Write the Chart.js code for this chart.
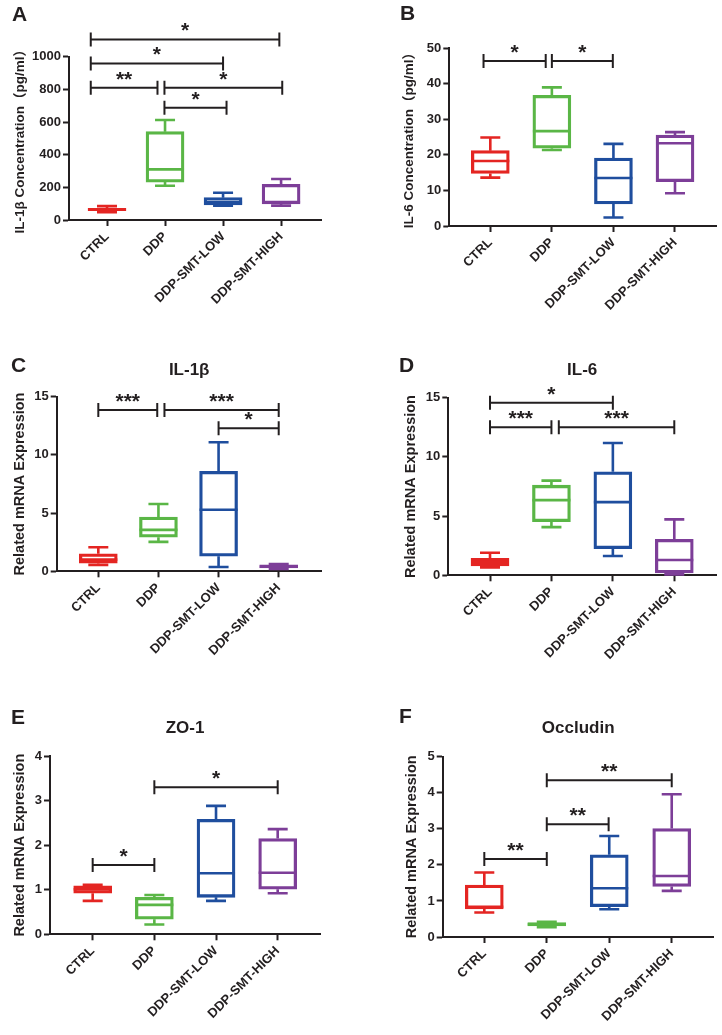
<!DOCTYPE html>
<html><head><meta charset="utf-8">
<script src="https://cdn.jsdelivr.net/npm/chart.js@4/dist/chart.umd.min.js"></script>
<style>
html,body{margin:0;padding:0;background:#fff;}
body{width:722px;height:1035px;position:relative;overflow:hidden;}
canvas{position:absolute;}
</style></head><body>
<canvas id="cA"></canvas><canvas id="cB"></canvas>
<canvas id="cC"></canvas><canvas id="cD"></canvas>
<canvas id="cE"></canvas><canvas id="cF"></canvas>
<script>
// ---------- data ----------
const categories = ['CTRL', 'DDP', 'DDP-SMT-LOW', 'DDP-SMT-HIGH'];

// A: IL-1β concentration (pg/ml)
const aMin = [47, 210, 88, 88];
const aQ1 = [57, 232, 92, 98];
const aMedian = [65, 310, 108, 110];
const aQ3 = [72, 541, 137, 218];
const aMax = [85, 612, 167, 251];
const aTicks = [0, 200, 400, 600, 800, 1000];
const aBrackets = [[0.72, 3.97, 1106, '*'], [0.72, 3.0, 959, '*'], [0.72, 1.87, 810, '**'], [1.99, 4.02, 810, '*'], [1.99, 3.06, 687, '*']];

// B: IL-6 concentration (pg/ml)
const bMin = [13.6, 21.4, 2.4, 9.2];
const bQ1 = [14.8, 21.9, 6.2, 12.5];
const bMedian = [18.3, 26.7, 13.5, 23.3];
const bQ3 = [21.2, 36.8, 19.1, 25.6];
const bMax = [24.9, 39.0, 23.1, 26.4];
const bTicks = [0, 10, 20, 30, 40, 50];
const bBrackets = [[0.89, 1.9, 46.4, '*'], [2.0, 2.99, 46.4, '*']];

// C: IL-1β mRNA
const cMin = [0.55, 2.53, 0.37, 0.2];
const cQ1 = [0.7, 2.93, 1.29, 0.29];
const cMedian = [1.0, 3.56, 5.29, 0.4];
const cQ3 = [1.5, 4.66, 8.59, 0.55];
const cMax = [2.07, 5.78, 11.09, 0.63];
const cTicks = [0, 5, 10, 15];
const cBrackets = [[1.0, 1.98, 13.85, '***'], [2.1, 4.0, 13.85, '***'], [3.0, 4.0, 12.28, '*']];

// D: IL-6 mRNA
const dMin = [0.67, 4.07, 1.63, 0.08];
const dQ1 = [0.79, 4.52, 2.25, 0.2];
const dMedian = [1.15, 6.35, 6.18, 1.29];
const dQ3 = [1.43, 7.61, 8.74, 3.03];
const dMax = [1.91, 8.0, 11.18, 4.72];
const dTicks = [0, 5, 10, 15];
const dBrackets = [[1.0, 3.0, 14.58, '*'], [1.0, 2.0, 12.5, '***'], [2.12, 4.0, 12.5, '***']];

// E: ZO-1 mRNA
const eMin = [0.75, 0.22, 0.75, 0.92];
const eQ1 = [0.92, 0.34, 0.83, 1.01];
const eMedian = [1.01, 0.66, 1.37, 1.38];
const eQ3 = [1.09, 0.83, 2.58, 2.15];
const eMax = [1.11, 0.88, 2.88, 2.36];
const eTicks = [0, 1, 2, 3, 4];
const eBrackets = [[1.0, 2.0, 1.555, '*'], [2.0, 4.0, 3.3, '*']];

// F: Occludin mRNA
const fMin = [0.68, 0.27, 0.77, 1.28];
const fQ1 = [0.78, 0.31, 0.84, 1.40];
const fMedian = [0.84, 0.35, 1.35, 1.69];
const fQ3 = [1.44, 0.40, 2.28, 3.01];
const fMax = [1.79, 0.42, 2.80, 3.96];
const fTicks = [0, 1, 2, 3, 4, 5];
const fBrackets = [[1.0, 2.0, 2.16, '**'], [2.0, 2.99, 3.13, '**'], [2.0, 4.0, 4.35, '**']];

// ---------- style ----------
const colors = ['#E42522', '#5AB646', '#1F4E9E', '#7D3E98'];
const INK = '#231F20';
const FONT = '"Liberation Sans", Arial, Helvetica, "Noto Sans CJK SC", sans-serif';
const LW = 2.6, BOXW = 38, CAPW = 20;

function extrasPlugin(p) {
  return {
    id: 'extras' + p.id,
    afterDatasetsDraw(chart) {
      const ctx = chart.ctx, x = chart.scales.x, y = chart.scales.y;
      ctx.save();
      ctx.lineWidth = LW; ctx.lineCap = 'butt';
      categories.forEach((c, i) => {
        const cx = x.getPixelForValue(i + 1);
        const yMin = y.getPixelForValue(p.min[i]), yQ1 = y.getPixelForValue(p.q1[i]);
        const yMed = y.getPixelForValue(p.med[i]), yQ3 = y.getPixelForValue(p.q3[i]);
        const yMax = y.getPixelForValue(p.max[i]);
        ctx.strokeStyle = colors[i];
        ctx.beginPath();
        ctx.moveTo(cx, yQ3); ctx.lineTo(cx, yMax);
        ctx.moveTo(cx - CAPW / 2, yMax); ctx.lineTo(cx + CAPW / 2, yMax);
        ctx.moveTo(cx, yQ1); ctx.lineTo(cx, yMin);
        ctx.moveTo(cx - CAPW / 2, yMin); ctx.lineTo(cx + CAPW / 2, yMin);
        ctx.moveTo(cx - BOXW / 2, yMed); ctx.lineTo(cx + BOXW / 2, yMed);
        ctx.stroke();
      });
      ctx.restore();
    },
    afterDraw(chart) {
      const ctx = chart.ctx, x = chart.scales.x, y = chart.scales.y;
      const [cl, ct] = p.box;
      ctx.save();
      ctx.strokeStyle = INK; ctx.fillStyle = INK; ctx.lineWidth = 2;
      ctx.textAlign = 'center'; ctx.textBaseline = 'alphabetic';
      ctx.font = 'bold 21px ' + FONT;
      p.brackets.forEach(([x1, x2, v, lab]) => {
        const px1 = x.getPixelForValue(x1), px2 = x.getPixelForValue(x2), py = y.getPixelForValue(v);
        ctx.beginPath();
        ctx.moveTo(px1, py); ctx.lineTo(px2, py);
        ctx.moveTo(px1, py - 7); ctx.lineTo(px1, py + 7);
        ctx.moveTo(px2, py - 7); ctx.lineTo(px2, py + 7);
        ctx.stroke();
        ctx.fillText(lab, (px1 + px2) / 2, py - 2);
      });
      // panel letter
      ctx.textAlign = 'left';
      ctx.font = 'bold 21px ' + FONT;
      ctx.fillText(p.letter, p.letterPos[0] - cl, p.letterPos[1] - ct);
      // title
      if (p.title) {
        ctx.textAlign = 'center';
        ctx.font = 'bold 17px ' + FONT;
        const a = chart.chartArea;
        ctx.fillText(p.title, (a.left + a.right) / 2, p.titleY - ct);
      }
      ctx.restore();
    }
  };
}

function makeChart(p) {
  const [cl, ct, cw, ch] = p.box;
  const [L, T, R, B] = p.area;
  const canvas = document.getElementById(p.id);
  canvas.width = cw; canvas.height = ch;
  canvas.style.left = cl + 'px'; canvas.style.top = ct + 'px';
  canvas.style.width = cw + 'px'; canvas.style.height = ch + 'px';
  const tickFont = { family: FONT, size: 13, weight: 'bold' };
  const gridOpts = { display: true, drawOnChartArea: false, drawTicks: true, tickLength: 6, tickWidth: 2, tickColor: INK, offset: false };
  const borderOpts = { display: true, color: INK, width: 2 };
  return new Chart(canvas, {
    type: 'bar',
    data: {
      datasets: [{
        data: categories.map((c, i) => ({ x: i + 1, y: [p.q1[i], p.q3[i]] })),
        backgroundColor: 'rgba(255,255,255,0)',
        borderColor: colors,
        borderWidth: LW,
        borderSkipped: false,
        barThickness: BOXW
      }]
    },
    options: {
      responsive: false, animation: false, devicePixelRatio: 1,
      layout: { padding: { left: 0, top: T - ct, right: cl + cw - R, bottom: 0 } },
      plugins: { legend: { display: false }, tooltip: { enabled: false }, title: { display: false } },
      scales: {
        x: {
          type: 'linear', min: p.xmin, max: p.xmax, offset: false,
          afterBuildTicks: s => { s.ticks = categories.map((c, i) => ({ value: i + 1 })); },
          afterFit: s => { s.height = ch - (B - ct); },
          ticks: { callback: v => categories[v - 1] ?? '', minRotation: 45, maxRotation: 45, autoSkip: false, font: tickFont, color: INK, padding: 3 },
          grid: gridOpts, border: borderOpts
        },
        y: {
          type: 'linear', min: 0, max: p.ticks[p.ticks.length - 1],
          afterBuildTicks: s => { s.ticks = p.ticks.map(v => ({ value: v })); },
          afterFit: s => { s.width = L - cl; },
          ticks: { callback: v => String(v), font: tickFont, color: INK, padding: 2 },
          grid: gridOpts, border: borderOpts,
          title: { display: true, text: p.ytitle, color: INK, font: { family: FONT, size: p.ytSize, weight: 'bold', lineHeight: 1.2 }, padding: { top: p.ytPad, bottom: 0 } }
        }
      }
    },
    plugins: [extrasPlugin(p)]
  });
}

const mrna = 'Related mRNA Expression';
makeChart({ id: 'cA', box: [0, 0, 361, 330], area: [69, 56.7, 321.7, 220], xmin: 0.345, xmax: 4.70,
  min: aMin, q1: aQ1, med: aMedian, q3: aQ3, max: aMax, ticks: aTicks, brackets: aBrackets,
  ytitle: 'IL-1β Concentration（pg/ml）', ytSize: 13.5, ytPad: 12, letter: 'A', letterPos: [12, 21] });
makeChart({ id: 'cB', box: [361, 0, 361, 330], area: [449.3, 48.3, 716, 226], xmin: 0.334, xmax: 4.666,
  min: bMin, q1: bQ1, med: bMedian, q3: bQ3, max: bMax, ticks: bTicks, brackets: bBrackets,
  ytitle: 'IL-6 Concentration（pg/ml）', ytSize: 13.5, ytPad: 40, letter: 'B', letterPos: [400, 20] });
makeChart({ id: 'cC', box: [0, 330, 361, 350], area: [56.7, 396.7, 321.7, 571.3], xmin: 0.308, xmax: 4.715,
  min: cMin, q1: cQ1, med: cMedian, q3: cQ3, max: cMax, ticks: cTicks, brackets: cBrackets,
  ytitle: mrna, ytSize: 14.5, ytPad: 11.5, letter: 'C', letterPos: [11, 372], title: 'IL-1β', titleY: 375 });
makeChart({ id: 'cD', box: [361, 330, 361, 350], area: [448.3, 397.7, 716, 575.3], xmin: 0.321, xmax: 4.679,
  min: dMin, q1: dQ1, med: dMedian, q3: dQ3, max: dMax, ticks: dTicks, brackets: dBrackets,
  ytitle: mrna, ytSize: 14.5, ytPad: 41, letter: 'D', letterPos: [399, 372], title: 'IL-6', titleY: 375 });
makeChart({ id: 'cE', box: [0, 680, 361, 355], area: [50, 756, 320, 934.3], xmin: 0.308, xmax: 4.686,
  min: eMin, q1: eQ1, med: eMedian, q3: eQ3, max: eMax, ticks: eTicks, brackets: eBrackets,
  ytitle: mrna, ytSize: 14.5, ytPad: 11.5, letter: 'E', letterPos: [11, 724], title: 'ZO-1', titleY: 733 });
makeChart({ id: 'cF', box: [361, 680, 361, 355], area: [442.7, 756.7, 713.7, 937], xmin: 0.334, xmax: 4.672,
  min: fMin, q1: fQ1, med: fMedian, q3: fQ3, max: fMax, ticks: fTicks, brackets: fBrackets,
  ytitle: mrna, ytSize: 14.5, ytPad: 42, letter: 'F', letterPos: [399, 723], title: 'Occludin', titleY: 733 });
</script>
</body></html>
